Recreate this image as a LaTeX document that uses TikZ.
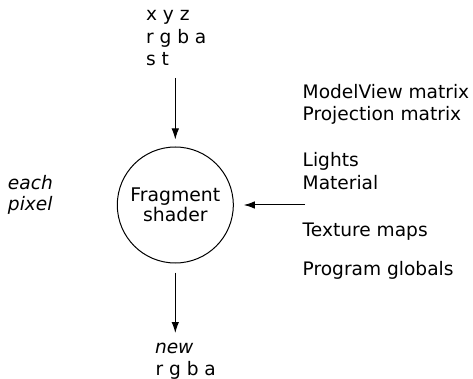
\documentclass[tikz,border=0pt]{standalone}
\usepackage{fontspec}
\setmainfont{DejaVu Sans}
\usetikzlibrary{arrows.meta}
\begin{document}
\begin{tikzpicture}[x=1pt,y=-1pt,
  lbl/.style={inner sep=0pt,outer sep=0pt,align=left,font=\fontsize{18.6}{22.3}\selectfont},
  itlbl/.style={lbl,font=\fontsize{18.6}{22.3}\selectfont\itshape},
  arr/.style={line width=1pt,-{Latex[length=11pt,width=7.5pt]}},
  shader/.style={circle,draw,line width=1pt,minimum size=116pt,inner sep=0pt,align=center,font=\fontsize{18.8}{20.5}\selectfont}]
\useasboundingbox (0,0) rectangle (473,379);
\node[shader] (fs) at (175.3,205) {Fragment\\shader};
\node[lbl,anchor=base west] (xyz) at (146,20.7) {x y z};
\node[lbl,anchor=base west] (rgba) at (146,43.3) {r g b a};
\node[lbl,anchor=base west] (st) at (146,65.7) {s t};
\coordinate (topstart) at (175.3,78);
\draw[arr] (topstart) -- (fs.north) [shorten >=7pt];
\node[itlbl,anchor=base west] (each) at (8,190) {each};
\node[itlbl,anchor=base west] (pixel) at (8,210.5) {pixel};
\node[lbl,anchor=base west] (mv) at (302.7,98.3) {ModelView matrix};
\node[lbl,anchor=base west] (pm) at (302.7,120.5) {Projection matrix};
\node[lbl,anchor=base west] (li) at (302.7,166.7) {Lights};
\node[lbl,anchor=base west] (ma) at (302.7,189.5) {Material};
\node[lbl,anchor=base west] (tm) at (302.7,236.7) {Texture maps};
\node[lbl,anchor=base west] (pg) at (302.7,275) {Program globals};
\coordinate (rightstart) at (305,205);
\draw[arr] (rightstart) -- (fs.east) [shorten >=10pt];
\node[itlbl,anchor=base west] (new) at (155,353.3) {new};
\node[lbl,anchor=base west] (out) at (155.5,375) {r g b a};
\coordinate (botend) at (175.3,333);
\draw[arr] (fs.south) [shorten <=9pt] -- (botend);
\end{tikzpicture}
\end{document}
